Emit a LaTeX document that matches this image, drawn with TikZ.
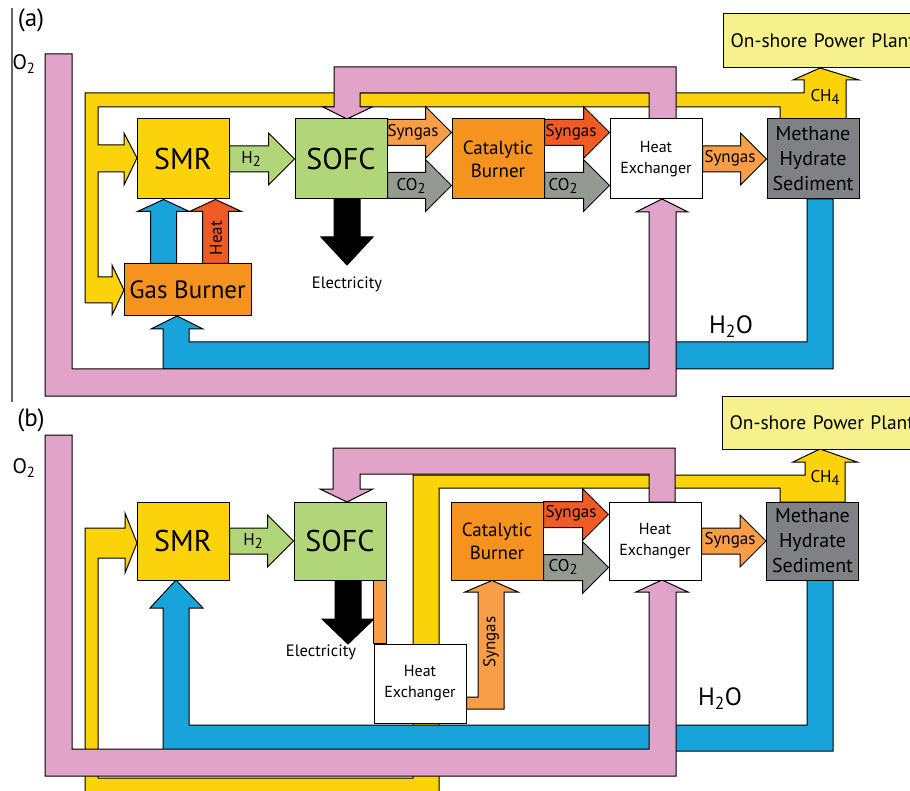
\documentclass[tikz,border=0pt]{standalone}
\usepackage{fontspec}
\setmainfont{PT Sans}
\usetikzlibrary{calc}
\definecolor{o2pink}{RGB}{226,163,200}
\definecolor{ch4yellow}{RGB}{252,210,10}
\definecolor{h2oblue}{RGB}{24,163,219}
\definecolor{h2green}{RGB}{177,214,122}
\definecolor{burnorange}{RGB}{246,146,30}
\definecolor{synorange}{RGB}{248,157,72}
\definecolor{synred}{RGB}{240,90,36}
\definecolor{co2gray}{RGB}{148,154,146}
\definecolor{sedgray}{RGB}{128,129,132}
\definecolor{plantyellow}{RGB}{246,241,140}
% lowered index as printed in the arrows
\newcommand{\lowsub}[1]{\raisebox{-0.45ex}{\scalebox{0.85}{#1}}}
% block arrow between two points: [head length]{fill}{from}{to}
\newcommand{\flow}[4][26]{%
  \draw[pipe, fill=#2] let \p1=#3, \p2=#4,
    \n1={veclen(\x2-\x1,\y2-\y1)}, \n2={atan2(\y2-\y1,\x2-\x1)} in
    {[shift={(\p1)}, rotate=\n2]
    (0pt,-13pt) -- (\n1-#1pt,-13pt) -- (\n1-#1pt,-26pt) -- (\n1,0pt)
    -- (\n1-#1pt,26pt) -- (\n1-#1pt,13pt) -- (0pt,13pt) -- cycle};}

\begin{document}
\begin{tikzpicture}[x=1pt, y=-1pt,
    pipe/.style={draw, line width=1pt, line join=miter},
    box/.style={draw, line width=1pt, fill=#1, inner sep=0pt, minimum width=92pt, minimum height=80pt, align=center},
    big/.style={font=\fontsize{30}{30}\selectfont},
    mid/.style={font=\fontsize{19}{23}\selectfont},
    small/.style={font=\fontsize{16}{21}\selectfont},
    tag/.style={font=\fontsize{17}{17}\selectfont, inner sep=0pt}
]
\useasboundingbox (0,0) rectangle (910,791);
\clip (0,0) rectangle (910,791);

% ---------- (a) ----------
\draw[black!60, line width=1.2pt] (12,8) -- (12,402);
\node[font=\fontsize{25}{25}\selectfont] (tagA) at (31,20) {(a)};
\node[font=\fontsize{21}{21}\selectfont, inner sep=0pt] (o2A) at (24,64) {O\textsubscript{2}};

% CH4 line
\draw[pipe, fill=ch4yellow] (846,119) -- (846,80) -- (859,80) -- (820,68) -- (793,80) -- (804,80)
  -- (804,93) -- (85,93) -- (85,303) -- (112,303) -- (112,315) -- (124,290) -- (112,265)
  -- (112,277) -- (98,277) -- (98,172) -- (124,172) -- (124,185) -- (137,158) -- (124,133)
  -- (124,145) -- (98,145) -- (98,107) -- (780,107) -- (780,119) -- cycle;
% water line
\draw[pipe, fill=h2oblue] (807,199) -- (833,199) -- (833,369) -- (163,369) -- (163,329)
  -- (151,329) -- (177,316) -- (203,329) -- (189,329) -- (189,342) -- (807,342) -- cycle;
% oxygen lines
\draw[pipe, fill=o2pink] (45,54) -- (72,54) -- (72,369) -- (649,369) -- (649,212) -- (636,212)
  -- (662,199) -- (688,212) -- (676,212) -- (676,396) -- (45,396) -- cycle;
\draw[pipe, fill=o2pink] (649,119) -- (649,93) -- (360,93) -- (360,107) -- (372,107) -- (347,119)
  -- (323,107) -- (334,107) -- (334,67) -- (676,67) -- (676,119) -- cycle;

\node[box=ch4yellow, big] (smrA) at (183,159) {SMR};
\node[box=h2green, big] (sofcA) at (341,159) {SOFC};
\node[box=burnorange, mid] (cbA) at (498,159) {Catalytic\\Burner};
\node[box=white, small] (hxA) at (656,159) {Heat\\Exchanger};
\node[box=sedgray, font=\fontsize{20}{25}\selectfont] (mhsA) at (813,159) {Methane\\Hydrate\\Sediment};
\node[box=burnorange, minimum width=127pt, minimum height=52pt, font=\fontsize{25}{25}\selectfont] (gbA) at (187.5,290) {Gas Burner};
\node[draw, line width=1pt, fill=plantyellow, anchor=west, minimum height=54pt, text width=200pt,
  inner xsep=7pt, align=left, font=\fontsize{19.5}{20}\selectfont] (ppA) at (723,41) {On-shore Power Plant};

\flow{h2green}{(smrA.east)}{(sofcA.west)}
\flow{synorange}{($(sofcA.north east)+(0,14)$)}{($(cbA.north west)+(0,14)$)}
\flow{co2gray}{($(sofcA.south east)+(0,-14)$)}{($(cbA.south west)+(0,-14)$)}
\flow{synred}{($(cbA.north east)+(0,14)$)}{($(hxA.north west)+(0,14)$)}
\flow{co2gray}{($(cbA.south east)+(0,-14)$)}{($(hxA.south west)+(0,-14)$)}
\flow{synorange}{(hxA.east)}{(mhsA.west)}
\flow[12]{h2oblue}{($(gbA.north west)+(40,0)$)}{($(smrA.south west)+(27,0)$)}
\flow[12]{synred}{($(gbA.north west)+(92,0)$)}{($(smrA.south west)+(79,0)$)}
\coordinate (elecA) at (347,265);
\flow[28]{black}{(sofcA.south -| elecA)}{(elecA)}

\node[tag] (h2A) at (251,159) {H\lowsub{2}};
\node[tag] (synA1) at (413,132) {Syngas};
\node[tag] (co2A1) at (411,186) {CO\lowsub{2}};
\node[tag] (synA2) at (571,132) {Syngas};
\node[tag] (co2A2) at (563,186) {CO\lowsub{2}};
\node[tag] (synA3) at (730,158) {Syngas};
\node[tag, rotate=90] (heatA) at (216,238) {Heat};
\node[tag] (ch4A) at (825,97) {CH\lowsub{4}};
\node[font=\fontsize{16.5}{16.5}\selectfont] (elecTxtA) at (347,284) {Electricity};
\node[font=\fontsize{25}{25}\selectfont] (h2oA) at (731,327) {H\textsubscript{2}O};

% ---------- (b) ----------
\node[font=\fontsize{25}{25}\selectfont] (tagB) at (31,420) {(b)};
\node[font=\fontsize{21}{21}\selectfont, inner sep=0pt] (o2B) at (24,468) {O\textsubscript{2}};

% CH4 line
\draw[pipe, fill=ch4yellow] (845,502) -- (845,462) -- (857,462) -- (820,449) -- (793,462) -- (805,462)
  -- (805,475) -- (413,475) -- (413,778) -- (98,778) -- (98,558) -- (125,558) -- (125,573)
  -- (137,543) -- (125,513) -- (125,528) -- (85,528) -- (85,810) -- (439,810) -- (439,488)
  -- (780,488) -- (780,502) -- cycle;
% water line
\draw[pipe, fill=h2oblue] (807,580) -- (833,580) -- (833,751) -- (163,751) -- (163,608)
  -- (150,608) -- (176,580) -- (203,608) -- (189,608) -- (189,725) -- (807,725) -- cycle;
% oxygen lines
\draw[pipe, fill=o2pink] (45,435) -- (72,435) -- (72,749) -- (649,749) -- (649,592) -- (636,592)
  -- (662,580) -- (688,592) -- (676,592) -- (676,776) -- (45,776) -- cycle;
\draw[pipe, fill=o2pink] (649,502) -- (649,474) -- (360,474) -- (360,489) -- (373,489) -- (347,502)
  -- (320,489) -- (333,489) -- (333,448) -- (675,448) -- (675,502) -- cycle;

\node[box=ch4yellow, big, minimum height=78pt] (smrB) at (183,541) {SMR};
\node[box=h2green, big, minimum height=78pt] (sofcB) at (340,541) {SOFC};
\node[box=burnorange, mid, minimum height=78pt] (cbB) at (497,541) {Catalytic\\Burner};
\node[box=white, small, minimum height=78pt] (hxB) at (655,541) {Heat\\Exchanger};
\node[box=sedgray, minimum height=78pt, font=\fontsize{20}{25}\selectfont] (mhsB) at (812.5,541) {Methane\\Hydrate\\Sediment};
\node[box=white, small, minimum height=79pt] (hx2B) at (420,683.5) {Heat\\Exchanger};
\node[draw, line width=1pt, fill=plantyellow, anchor=west, minimum height=53pt, text width=200pt,
  inner xsep=7pt, align=left, font=\fontsize{19.5}{20}\selectfont] (ppB) at (722,422.5) {On-shore Power Plant};

\flow{h2green}{(smrB.east)}{(sofcB.west)}
\flow{synred}{($(cbB.north east)+(0,13)$)}{($(hxB.north west)+(0,13)$)}
\flow{co2gray}{($(cbB.south east)+(0,-13)$)}{($(hxB.south west)+(0,-13)$)}
\flow{synorange}{(hxB.east)}{(mhsB.west)}
\coordinate (elecB) at (348,644);
\flow[25]{black}{(sofcB.south -| elecB)}{(elecB)}
\draw[pipe, fill=synorange] (sofcB.south east) rectangle (hx2B.north west);
\draw[pipe, fill=synorange] (hx2B.east |- 0,697) -- (478,697) -- (478,592) -- (465,592)
  -- (cbB.south -| 492,0) -- (518,592) -- (504,592) -- (504,709) -- (hx2B.east |- 0,709) -- cycle;

\node[tag] (h2B) at (253,541) {H\lowsub{2}};
\node[tag] (synB1) at (571,513) {Syngas};
\node[tag] (co2B1) at (563,567) {CO\lowsub{2}};
\node[tag] (synB2) at (730,540) {Syngas};
\node[tag, rotate=90] (synB3) at (491,642) {Syngas};
\node[tag] (ch4B) at (825,478) {CH\lowsub{4}};
\node[font=\fontsize{16.5}{16.5}\selectfont] (elecTxtB) at (321,652) {Electricity};
\node[font=\fontsize{25}{25}\selectfont] (h2oB) at (720,699) {H\textsubscript{2}O};
\end{tikzpicture}
\end{document}
